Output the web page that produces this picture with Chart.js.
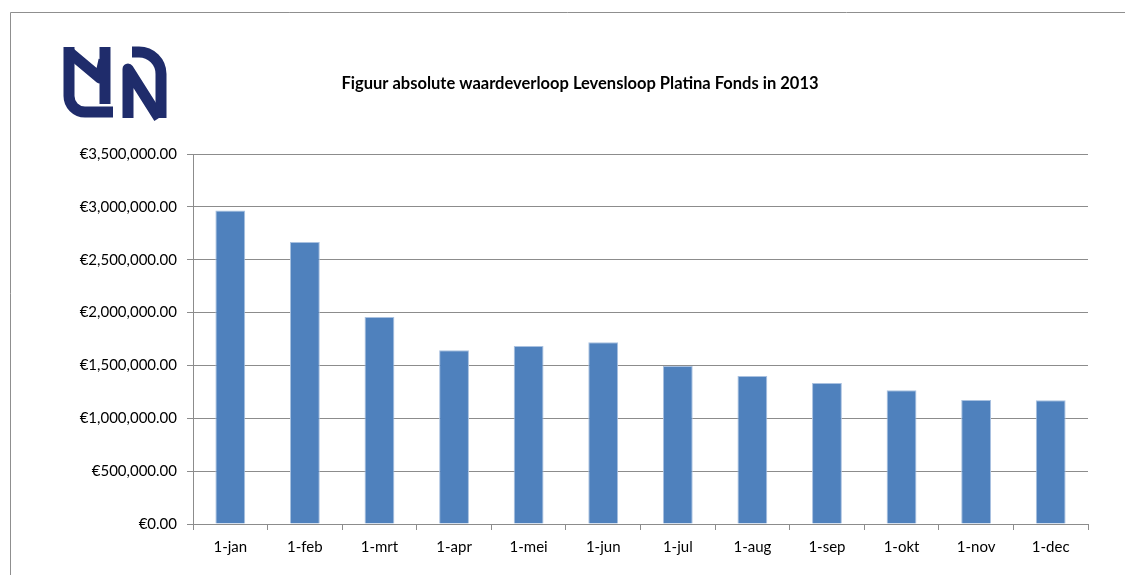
<!DOCTYPE html>
<html>
<head>
<meta charset="utf-8">
<script src="https://cdn.jsdelivr.net/npm/chart.js@4"></script>
<style>
  html, body { margin: 0; padding: 0; background: #fff; }
  #wrap { position: relative; width: 1125px; height: 575px; }
</style>
</head>
<body>
<div id="wrap"><canvas id="graph_1" width="1125" height="575"></canvas></div>
<script>
// data
const months = ["1-jan", "1-feb", "1-mrt", "1-apr", "1-mei", "1-jun", "1-jul", "1-aug", "1-sep", "1-okt", "1-nov", "1-dec"];
const values = [2965000, 2668000, 1958000, 1644000, 1684000, 1719000, 1495000, 1400000, 1334000, 1265000, 1173000, 1170000];
const yMax = 3500000;
const yStep = 500000;
const chartTitle = "Figuur absolute waardeverloop Levensloop Platina Fonds in 2013";

const fontFamily = "Lato, 'Open Sans', sans-serif";

// frame, title and logo
const decor = {
  id: "decor",
  beforeDraw(chart) {
    const c = chart.ctx;
    c.save();
    c.strokeStyle = "#8f8f8f";
    c.lineWidth = 1;
    c.beginPath();
    c.moveTo(10.5, 575);
    c.lineTo(10.5, 12.5);
    c.lineTo(1125, 12.5);
    c.stroke();
    c.restore();
  },
  afterDraw(chart) {
    const c = chart.ctx;
    c.save();
    c.fillStyle = "#000";
    c.font = "bold 16.5px " + fontFamily;
    c.textAlign = "center";
    c.textBaseline = "middle";
    c.fillText(chartTitle, 580, 84);

    // MN logo
    c.strokeStyle = "#1f2c6b";
    c.lineWidth = 11;
    c.lineCap = "butt";
    c.lineJoin = "round";
    c.beginPath();
    c.moveTo(69, 47);
    c.lineTo(69, 96);
    c.arcTo(69, 112, 86, 112, 16);
    c.lineTo(113, 112);
    c.stroke();
    c.beginPath();
    c.moveTo(69, 52);
    c.lineTo(100, 78);
    c.lineTo(104, 60);
    c.stroke();
    c.beginPath();
    c.moveTo(105, 47);
    c.lineTo(105, 104);
    c.stroke();
    c.beginPath();
    c.moveTo(128, 118);
    c.lineTo(128, 69);
    c.lineTo(159, 118);
    c.stroke();
    c.beginPath();
    c.moveTo(132, 52);
    c.lineTo(138, 52);
    c.arcTo(161, 52, 161, 80, 22);
    c.lineTo(161, 118);
    c.stroke();
    c.restore();
  },
};

const ctx = document.getElementById("graph_1");

new Chart(ctx, {
  type: "bar",
  data: {
    labels: months,
    datasets: [
      {
        label: "Waarde",
        data: values,
        backgroundColor: "#4f81bd",
        borderColor: "#a9c1e0",
        borderWidth: 1,
        categoryPercentage: 1,
        barPercentage: 0.4,
      },
    ],
  },
  plugins: [decor],
  options: {
    responsive: false,
    animation: false,
    layout: {
      padding: { top: 154, right: 37, bottom: 11, left: 0 },
    },
    plugins: {
      legend: { display: false },
      tooltip: { enabled: false },
    },
    scales: {
      y: {
        min: 0,
        max: yMax,
        afterFit(scale) {
          scale.width = 193;
        },
        grid: {
          color: "#8c8c8c",
          tickLength: 6,
        },
        border: { color: "#8c8c8c" },
        ticks: {
          stepSize: yStep,
          padding: 10,
          color: "#000",
          font: { family: fontFamily, size: 15 },
          callback: (v) => "€" + v.toLocaleString("en-US", { minimumFractionDigits: 2, maximumFractionDigits: 2 }),
        },
      },
      x: {
        afterFit(scale) {
          scale.height = 40;
        },
        grid: {
          drawOnChartArea: false,
          color: "#8c8c8c",
          tickLength: 6,
        },
        border: { color: "#8c8c8c" },
        ticks: {
          padding: 8,
          color: "#000",
          font: { family: fontFamily, size: 15 },
        },
      },
    },
  },
});
</script>
</body>
</html>
